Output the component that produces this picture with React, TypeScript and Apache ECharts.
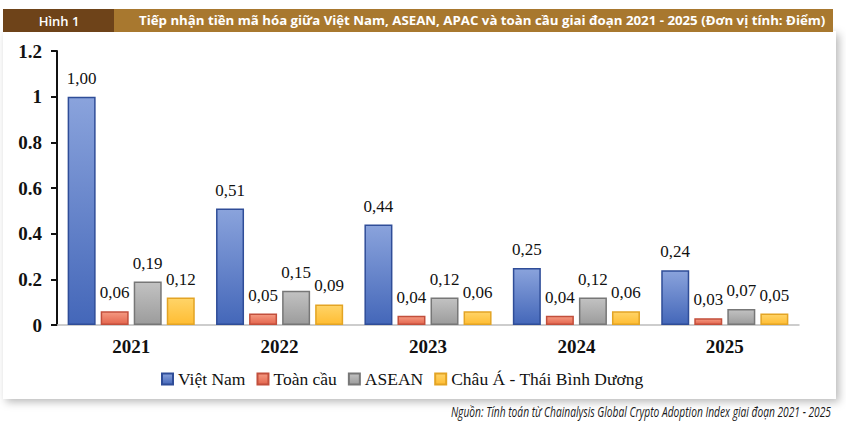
import React, { useEffect, useRef } from "react";
import * as echarts from "echarts";

const years = ["2021", "2022", "2023", "2024", "2025"];
const vietNam = [1.0, 0.51, 0.44, 0.25, 0.24];
const global = [0.06, 0.05, 0.04, 0.04, 0.03];
const asean = [0.19, 0.15, 0.12, 0.12, 0.07];
const apac = [0.12, 0.09, 0.06, 0.06, 0.05];

const seriesNames = ["Việt Nam", "Toàn cầu", "ASEAN", "Châu Á - Thái Bình Dương"];

const figureLabel = "Hình 1";
const figureTitle =
  "Tiếp nhận tiền mã hóa giữa Việt Nam, ASEAN, APAC và toàn cầu giai đoạn 2021 - 2025 (Đơn vị tính: Điểm)";
const sourceNote =
  "Nguồn: Tính toán từ Chainalysis Global Crypto Adoption Index giai đoạn 2021 - 2025";

const SERIF = "'Liberation Serif', 'Times New Roman', serif";
const SANS = "'Open Sans', 'Noto Sans', sans-serif";

const palette = [
  { top: "#8aa3dc", bottom: "#4467b9", border: "#2f4d98" },
  { top: "#f49a82", bottom: "#e4654d", border: "#c24f3c" },
  { top: "#c2c2c2", bottom: "#9c9c9c", border: "#777777" },
  { top: "#ffd468", bottom: "#ffbd33", border: "#e3a424" },
];

const fmt = (v: number) => v.toFixed(2).replace(".", ",");

export default function App() {
  const ref = useRef<HTMLDivElement>(null);

  useEffect(() => {
    document.body.style.margin = "0";
    if (!ref.current) return;
    const chart = echarts.init(ref.current, undefined, { renderer: "svg" });

    const makeSeries = (name: string, data: number[], i: number) => ({
      name,
      type: "bar",
      data,
      barWidth: 28,
      barGap: "18%",
      itemStyle: {
        color: new echarts.graphic.LinearGradient(0, 0, 0, 1, [
          { offset: 0, color: palette[i].top },
          { offset: 1, color: palette[i].bottom },
        ]),
        borderColor: palette[i].border,
        borderWidth: 1.5,
      },
      label: {
        show: true,
        position: "top",
        distance: 10,
        formatter: (p: any) => fmt(p.value),
        fontFamily: SERIF,
        fontSize: 17,
        color: "#111",
      },
    });

    chart.setOption({
      animation: false,
      backgroundColor: "#ffffff",
      graphic: [
        {
          type: "rect",
          shape: { x: 3, y: 31, width: 833, height: 368 },
          style: {
            fill: "#ffffff",
            shadowBlur: 8,
            shadowOffsetX: 3,
            shadowOffsetY: 3,
            shadowColor: "rgba(0,0,0,0.28)",
          },
          z: -10,
          silent: true,
        },
        {
          type: "rect",
          shape: { x: 3, y: 9, width: 830, height: 23 },
          style: { fill: "#a8782f" },
          silent: true,
        },
        {
          type: "rect",
          shape: { x: 3, y: 9, width: 111, height: 23 },
          style: { fill: "#6e4319" },
          silent: true,
        },
        {
          type: "text",
          x: 59,
          y: 20.5,
          style: {
            text: figureLabel,
            fill: "#ffffff",
            font: `600 13px ${SANS}`,
            align: "center",
            verticalAlign: "middle",
          },
          silent: true,
        },
        {
          type: "text",
          x: 139,
          y: 20.5,
          scaleX: 1.02,
          style: {
            text: figureTitle,
            fill: "#ffffff",
            font: `bold 13px ${SANS}`,
            align: "left",
            verticalAlign: "middle",
          },
          silent: true,
        },
        {
          type: "text",
          x: 831,
          y: 412,
          scaleX: 0.73,
          style: {
            text: sourceNote,
            fill: "#1a1a1a",
            font: `italic 14px ${SANS}`,
            align: "right",
            verticalAlign: "middle",
          },
          silent: true,
        },
      ],
      legend: {
        data: seriesNames,
        left: 156,
        top: 365,
        itemWidth: 11,
        itemHeight: 11,
        itemGap: 11,
        icon: "rect",
        textStyle: { fontFamily: SERIF, fontSize: 17.5, color: "#111" },
      },
      grid: { left: 57, right: 47, top: 51, bottom: 102, containLabel: false },
      xAxis: {
        type: "category",
        data: years,
        axisLine: { lineStyle: { color: "#bdbdbd", width: 1.5 } },
        axisTick: { show: false },
        axisLabel: {
          margin: 12,
          fontFamily: SERIF,
          fontWeight: "bold",
          fontSize: 19,
          color: "#111",
        },
      },
      yAxis: {
        type: "value",
        min: 0,
        max: 1.2,
        interval: 0.2,
        splitLine: { show: false },
        axisLine: { show: true, lineStyle: { color: "#111", width: 2 } },
        axisTick: { show: true, length: 6, lineStyle: { color: "#111", width: 2 } },
        axisLabel: {
          margin: 15,
          fontFamily: SERIF,
          fontWeight: "bold",
          fontSize: 19,
          color: "#111",
        },
      },
      series: [
        makeSeries(seriesNames[0], vietNam, 0),
        makeSeries(seriesNames[1], global, 1),
        makeSeries(seriesNames[2], asean, 2),
        makeSeries(seriesNames[3], apac, 3),
      ],
    });

    return () => chart.dispose();
  }, []);

  return <div ref={ref} style={{ width: 846, height: 427 }} />;
}
